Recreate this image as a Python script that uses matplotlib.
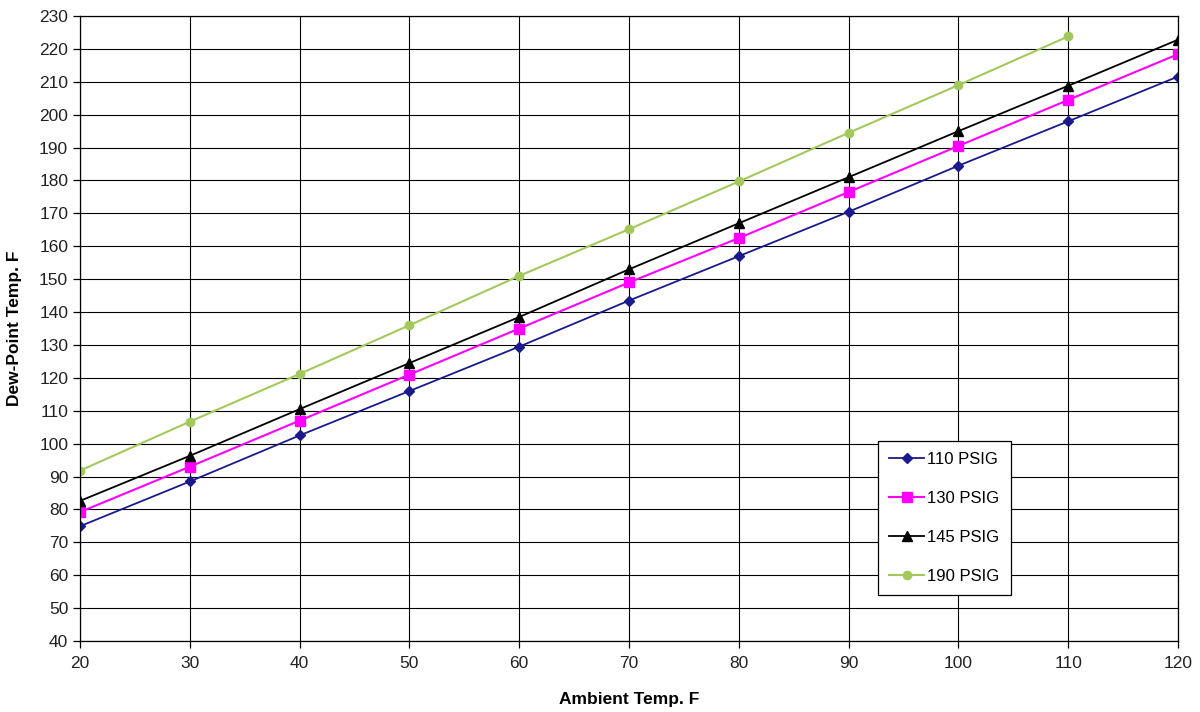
import matplotlib
matplotlib.use("Agg")
import matplotlib.pyplot as plt

plt.rcParams['font.family'] = ['Liberation Sans', 'DejaVu Sans']

# ambient temperature (F)
ambient = [20, 30, 40, 50, 60, 70, 80, 90, 100, 110, 120]
ambient_190 = [20, 30, 40, 50, 60, 70, 80, 90, 100, 110]

# dew-point temperature (F) per compressor pressure
dp_110 = [74.9, 88.5, 102.5, 116.0, 129.5, 143.5, 157.0, 170.5, 184.5, 198.0, 211.6]
dp_130 = [79.2, 93.0, 107.0, 121.0, 135.0, 149.0, 162.5, 176.5, 190.5, 204.5, 218.4]
dp_145 = [82.6, 96.3, 110.5, 124.5, 138.5, 153.0, 167.0, 181.0, 195.0, 208.8, 222.8]
dp_190 = [91.8, 106.7, 121.2, 136.0, 151.0, 165.2, 179.7, 194.5, 209.0, 223.8]

fig = plt.figure(figsize=(12, 7.12), dpi=100)
ax = fig.add_axes([0.0667, 0.0997, 0.915, 0.8778])

ax.plot(ambient, dp_110, '-D', color='#1a1a8c', lw=1.3, ms=5, label='110 PSIG')
ax.plot(ambient, dp_130, '-s', color='#ff00ff', lw=1.5, ms=7, label='130 PSIG')
ax.plot(ambient, dp_145, '-^', color='black', lw=1.3, ms=7, label='145 PSIG')
ax.plot(ambient_190, dp_190, '-o', color='#a3c95c', lw=1.5, ms=6, label='190 PSIG')

ax.set_xlim(20, 120)
ax.set_ylim(40, 230)
ax.set_xticks(range(20, 121, 10))
ax.set_yticks(range(40, 231, 10))
ax.grid(True, color='black', lw=0.8)
for s in ax.spines.values():
    s.set_color('black')
    s.set_linewidth(0.9)
ax.tick_params(labelsize=12.5, length=5, width=0.9, colors='black', labelcolor='#222222')
ax.tick_params(axis='x', pad=6)

ax.set_xlabel('Ambient Temp. F', fontsize=12.5, fontweight='bold', labelpad=15)
ax.set_ylabel('Dew-Point Temp. F', fontsize=12.5, fontweight='bold', labelpad=12)

leg = ax.legend(loc='lower left', bbox_to_anchor=(0.727, 0.0736),
                borderaxespad=0, fontsize=12, fancybox=False, framealpha=1,
                edgecolor='black', labelspacing=1.45, handlelength=2.1,
                handletextpad=0.2, borderpad=0.65)
leg.get_frame().set_linewidth(0.9)

fig.savefig('out.png', dpi=100)
